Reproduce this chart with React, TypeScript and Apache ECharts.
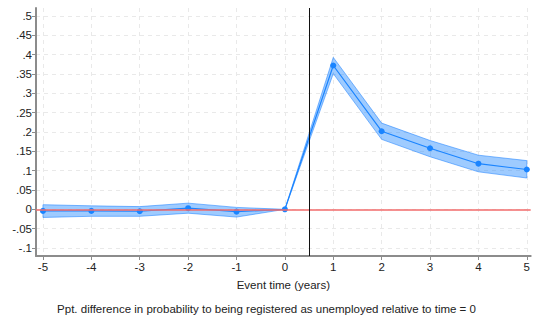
import React, { useEffect, useRef } from "react";
import * as echarts from "echarts";

const years = [-5, -4, -3, -2, -1, 0, 1, 2, 3, 4, 5];
const estimate = [-0.004, -0.004, -0.005, 0.003, -0.006, 0, 0.372, 0.202, 0.158, 0.118, 0.103];
const ciUpper = [0.012, 0.009, 0.007, 0.016, 0.005, 0, 0.393, 0.223, 0.178, 0.14, 0.126];
const ciLower = [-0.021, -0.018, -0.018, -0.01, -0.02, 0, 0.351, 0.181, 0.136, 0.097, 0.081];
const xTicks = [-5, -4, -3, -2, -1, 0, 1, 2, 3, 4, 5];
const yTicks = [-0.1, -0.05, 0, 0.05, 0.1, 0.15, 0.2, 0.25, 0.3, 0.35, 0.4, 0.45, 0.5];
const xTitle = "Event time (years)";
const caption = "Ppt. difference in probability to being registered as unemployed relative to time = 0";
const eventLine = 0.5;

const FONT = "'Liberation Sans', Arial, Helvetica, sans-serif";
const FS = 11.5;

function fmtY(v: number): string {
  if (Math.abs(v) < 1e-9) return "0";
  let s = parseFloat(v.toFixed(2)).toString();
  s = s.replace("0.", ".");
  return s;
}

export default function App() {
  const ref = useRef<HTMLDivElement>(null);
  useEffect(() => {
    if (!ref.current) return;
    const chart = echarts.init(ref.current, null, { renderer: "svg" });
    const gridLine = { show: true, lineStyle: { color: "#e9e9e9", type: [4, 4] as any, width: 1 } };
    chart.setOption({
      animation: false,
      backgroundColor: "#ffffff",
      textStyle: { fontFamily: FONT },
      grid: { left: 36, right: 0, top: 8, bottom: 64, containLabel: false },
      xAxis: {
        type: "value",
        min: -5.144,
        max: 5.08,
        name: xTitle,
        nameLocation: "middle",
        nameGap: 23,
        nameTextStyle: { fontSize: FS, color: "#222", fontFamily: FONT },
        axisLine: { show: true, onZero: false, lineStyle: { color: "#8c8c8c", width: 2 } },
        axisTick: { show: true, length: 4, customValues: xTicks, lineStyle: { color: "#8c8c8c" } },
        axisLabel: { customValues: xTicks, fontSize: FS, color: "#222", margin: 5, fontFamily: FONT },
        splitLine: gridLine,
      },
      yAxis: {
        type: "value",
        min: -0.1207,
        max: 0.5207,
        axisLine: { show: true, onZero: false, lineStyle: { color: "#8c8c8c", width: 2 } },
        axisTick: { show: true, length: 4, customValues: yTicks, lineStyle: { color: "#8c8c8c" } },
        axisLabel: { customValues: yTicks, fontSize: FS, color: "#222", margin: 4, formatter: (v: number) => fmtY(v), fontFamily: FONT },
        splitLine: gridLine,
      },
      graphic: [
        {
          type: "text",
          left: "center",
          top: 303,
          style: { text: caption, fontSize: FS, fill: "#222", fontFamily: FONT },
        },
      ],
      series: [
        {
          type: "line",
          data: [],
          z: 1,
          markLine: {
            silent: true,
            symbol: "none",
            label: { show: false },
            lineStyle: { color: "#f26b6b", width: 1.5, type: "solid" },
            data: [{ yAxis: 0 }],
          },
        },
        {
          type: "custom",
          z: 2,
          renderItem: (params: any, api: any) => {
            if (params.dataIndex !== 0) return null;
            const up = years.map((x, i) => api.coord([x, ciUpper[i]]));
            const lo = years.map((x, i) => api.coord([x, ciLower[i]])).reverse();
            return {
              type: "polygon",
              shape: { points: up.concat(lo) },
              style: { fill: "rgba(40,140,255,0.45)", stroke: "rgba(30,130,255,0.55)", lineWidth: 1 },
            };
          },
          data: years.map((x, i) => [x, estimate[i]]),
        },
        {
          type: "line",
          z: 3,
          data: years.map((x, i) => [x, estimate[i]]),
          symbol: "circle",
          symbolSize: 6,
          lineStyle: { color: "#1a84ff", width: 1.2 },
          itemStyle: { color: "#1a84ff" },
        },
        {
          type: "line",
          data: [],
          z: 4,
          markLine: {
            silent: true,
            symbol: "none",
            label: { show: false },
            lineStyle: { color: "#111", width: 1, type: "solid" },
            data: [{ xAxis: eventLine }],
          },
        },
      ],
    });
    return () => chart.dispose();
  }, []);
  return <div ref={ref} style={{ position: "fixed", left: 0, top: 0, width: 533, height: 320 }} />;
}
